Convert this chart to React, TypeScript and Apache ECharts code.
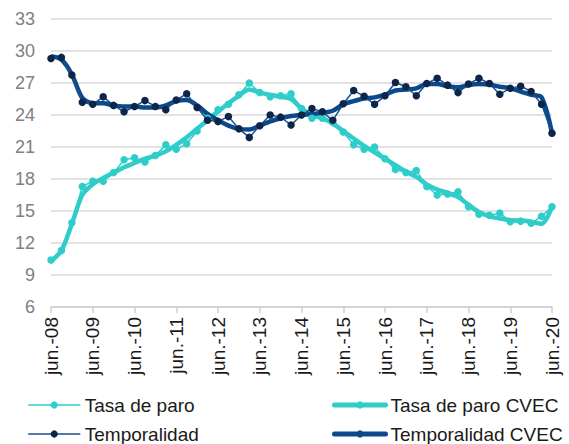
import React, { useEffect, useRef } from 'react';
import * as echarts from 'echarts';

const quarterMonths = ['jun.', 'sep.', 'dic.', 'mar.'];
const categories: string[] = [];
for (let i = 0; i < 49; i++) {
  const yy = 8 + Math.floor((i + 1) / 4);
  categories.push(quarterMonths[i % 4] + '-' + String(yy).padStart(2, '0'));
}

const tasaParo = [
  10.4, 11.3, 13.9, 17.3, 17.8, 17.8, 18.6, 19.8, 20.0, 19.6, 20.2, 21.2,
  20.8, 21.3, 22.5, 23.7, 24.5, 25.0, 25.9, 27.0, 26.1, 25.7, 25.8, 26.0,
  24.6, 23.7, 23.7, 23.3, 22.4, 21.2, 20.8, 21.0, 19.9, 18.9, 18.6, 18.8,
  17.3, 16.5, 16.6, 16.8, 15.4, 14.7, 14.6, 14.8, 14.0, 14.05, 13.85, 14.5, 15.4,
];

const tasaParoCVEC = [
  10.3, 11.3, 13.8, 16.5, 17.5, 18.1, 18.6, 19.1, 19.5, 19.9, 20.2, 20.6,
  21.2, 21.9, 22.7, 23.5, 24.3, 25.1, 25.8, 26.4, 26.1, 25.9, 25.7, 25.5,
  24.6, 24.0, 23.7, 23.2, 22.5, 21.8, 21.1, 20.5, 19.9, 19.3, 18.7, 18.2,
  17.5, 17.0, 16.7, 16.3, 15.6, 14.9, 14.5, 14.3, 14.15, 14.1, 14.0, 13.8, 15.4,
];

const temporalidad = [
  29.3, 29.4, 27.75, 25.2, 25.0, 25.7, 24.9, 24.3, 24.8, 25.35, 24.8, 24.5,
  25.4, 26.0, 24.7, 23.5, 23.4, 23.85, 22.7, 21.9, 23.0, 24.0, 23.8, 23.06,
  24.0, 24.6, 24.3, 23.5, 25.05, 26.3, 25.75, 25.0, 25.8, 27.05, 26.65, 25.8,
  26.95, 27.45, 26.8, 26.1, 26.9, 27.45, 26.95, 25.95, 26.5, 26.7, 26.2, 25.0, 22.3,
];

const temporalidadCVEC = [
  29.5, 29.2, 27.8, 25.6, 25.1, 25.1, 24.9, 24.8, 24.8, 24.7, 24.7, 24.9,
  25.3, 25.4, 24.9, 24.1, 23.5, 23.0, 22.7, 22.65, 23.0, 23.4, 23.7, 23.9,
  24.0, 24.1, 24.2, 24.4, 25.0, 25.3, 25.55, 25.65, 25.9, 26.3, 26.4, 26.5,
  26.9, 26.9, 26.7, 26.6, 26.8, 26.9, 26.85, 26.65, 26.5, 26.2, 25.9, 25.65, 22.3,
];

const CYAN = '#2ECDCA';
const NAVY_LINE = '#1B4F8F';
const NAVY_MARK = '#0C2548';
const NAVY_THICK = '#0B4A8A';
const FONT = 'Liberation Sans, Arial, sans-serif';

const legendText = { fontSize: 19, lineHeight: 20, color: '#1a1a1a', fontFamily: FONT };

function legendAt(name: string, left: number, top: number, itemWidth: number, lineWidth: number) {
  return {
    left, top, padding: 0, itemWidth, itemHeight: 9, itemGap: 6,
    data: [name], textStyle: legendText, selectedMode: false,
    lineStyle: { width: lineWidth, cap: 'round' },
  };
}

export default function App() {
  const ref = useRef<HTMLDivElement>(null);
  useEffect(() => {
    if (!ref.current) return;
    const chart = echarts.init(ref.current, undefined, { renderer: 'svg' });
    chart.setOption({
      animation: false,
      textStyle: { fontFamily: FONT },
      grid: { left: 51, right: 17, top: 19, bottom: 137, containLabel: false },
      legend: [
        legendAt('Tasa de paro', 28, 395, 51, 1.5),
        legendAt('Temporalidad', 28, 424, 51, 1.5),
        legendAt('Tasa de paro CVEC', 332, 395, 51, 5),
        legendAt('Temporalidad CVEC', 332, 424, 51, 5),
      ],
      xAxis: {
        type: 'category',
        data: categories,
        boundaryGap: false,
        axisLine: { show: true, lineStyle: { color: '#D0D0D0', width: 1.5 } },
        axisTick: { show: true, interval: 3, length: 6, lineStyle: { color: '#D0D0D0', width: 1.5 } },
        axisLabel: { interval: 3, rotate: 90, margin: 10, fontSize: 19, color: '#1a1a1a', fontFamily: FONT },
        splitLine: { show: false },
      },
      yAxis: {
        type: 'value',
        min: 6,
        max: 33,
        interval: 3,
        axisLine: { show: false },
        axisTick: { show: false },
        axisLabel: { margin: 16, fontSize: 18, color: '#808080', fontFamily: FONT },
        splitLine: { lineStyle: { color: '#D9D9D9', width: 1.5 } },
      },
      series: [
        {
          name: 'Tasa de paro', type: 'line', data: tasaParo, symbol: 'circle', symbolSize: 7.5,
          showAllSymbol: true,
          lineStyle: { color: CYAN, width: 1.5 }, itemStyle: { color: CYAN }, z: 3,
        },
        {
          name: 'Tasa de paro CVEC', type: 'line', data: tasaParoCVEC, symbol: 'none', smooth: 0.3,
          lineStyle: { color: CYAN, width: 4.5 }, itemStyle: { color: CYAN }, z: 2,
        },
        {
          name: 'Temporalidad', type: 'line', data: temporalidad, symbol: 'circle', symbolSize: 7.5,
          showAllSymbol: true,
          lineStyle: { color: NAVY_LINE, width: 1.5 }, itemStyle: { color: NAVY_MARK }, z: 4,
        },
        {
          name: 'Temporalidad CVEC', type: 'line', data: temporalidadCVEC, symbol: 'none', smooth: 0.3,
          lineStyle: { color: NAVY_THICK, width: 4.5 }, itemStyle: { color: NAVY_THICK }, z: 3,
        },
      ],
    });
    return () => chart.dispose();
  }, []);
  return <div ref={ref} style={{ position: 'absolute', left: 0, top: 0, width: 569, height: 444 }} />;
}
